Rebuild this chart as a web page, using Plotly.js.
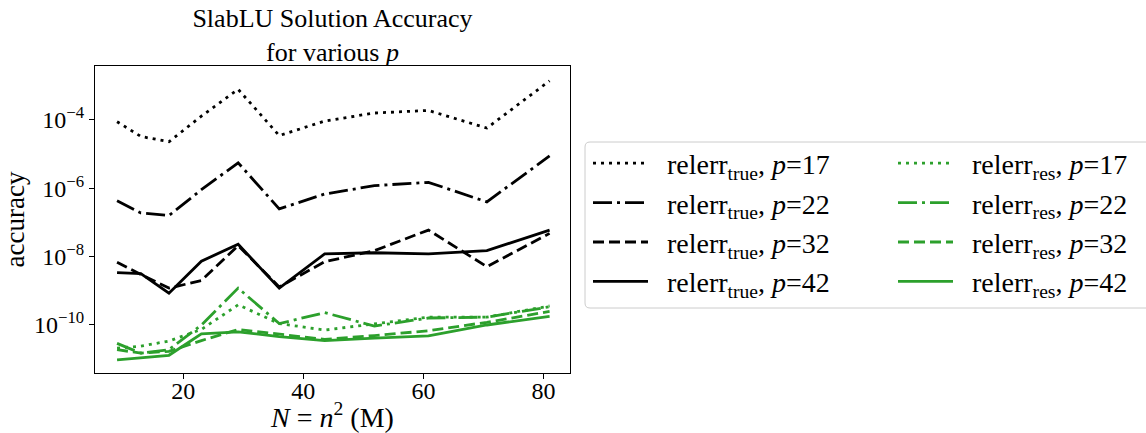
<!DOCTYPE html>
<html><head><meta charset="utf-8">
<script src="https://cdn.plot.ly/plotly-3.0.1.min.js"></script>
<style>html,body{margin:0;padding:0;background:#fff}</style>
</head><body><div id="chart" style="width:1146px;height:433px"></div>
<script>
// N = n^2 in millions (n = 3000, 3600, ..., 9000)
const N = [9, 12.96, 17.64, 23.04, 29.16, 36, 43.56, 51.84, 60.84, 70.56, 81];

// relerr_true
const trueP17 = [8.9e-5, 3.3e-5, 2.3e-5, 1.3e-4, 7.9e-4, 3.5e-5, 9.3e-5, 1.6e-4, 1.9e-4, 5.8e-5, 1.4e-3];
const trueP22 = [4.3e-7, 1.9e-7, 1.6e-7, 9.1e-7, 5.6e-6, 2.5e-7, 6.8e-7, 1.2e-6, 1.5e-6, 4.0e-7, 8.9e-6];
const trueP32 = [6.9e-9, 3.0e-9, 1.2e-9, 2.0e-9, 2.1e-8, 1.3e-9, 7.1e-9, 1.5e-8, 6.0e-8, 5.1e-9, 4.8e-8];
const trueP42 = [3.4e-9, 3.2e-9, 8.5e-10, 7.4e-9, 2.3e-8, 1.2e-9, 1.2e-8, 1.3e-8, 1.2e-8, 1.5e-8, 6.0e-8];

// relerr_res
const resP17 = [2.1e-11, 2.4e-11, 3.4e-11, 7.4e-11, 3.9e-10, 1.1e-10, 7.1e-11, 1.1e-10, 1.7e-10, 1.7e-10, 3.6e-10];
const resP22 = [2.9e-11, 1.5e-11, 1.9e-11, 1.0e-10, 1.2e-9, 1.1e-10, 2.3e-10, 9.3e-11, 1.6e-10, 1.7e-10, 3.4e-10];
const resP32 = [1.9e-11, 1.5e-11, 1.7e-11, 3.5e-11, 7.4e-11, 5.4e-11, 3.8e-11, 4.9e-11, 6.8e-11, 1.2e-10, 2.5e-10];
const resP42 = [9.5e-12, 1.1e-11, 1.3e-11, 5.5e-11, 6.3e-11, 4.6e-11, 3.5e-11, 4.1e-11, 4.8e-11, 1.0e-10, 1.8e-10];

const pValues = [17, 22, 32, 42];
const yTickVals = [1e-10, 1e-8, 1e-6, 1e-4];
const yTickText = ['10<sup>−10</sup>', '10<sup>−8</sup>', '10<sup>−6</sup>', '10<sup>−4</sup>'];
const xTickVals = [20, 40, 60, 80];

const FONT = 'Liberation Serif, Times New Roman, serif';
const LW = 2.8;
const dashes = ['3px,5px', '19px,5px,3px,5px', '11px,5px', 'solid'];
const BLACK = '#000000', GREEN = '#2ca02c';
const PAD = '\u00a0\u00a0';

const trueSets = [trueP17, trueP22, trueP32, trueP42];
const resSets = [resP17, resP22, resP32, resP42];

const traces = [];
trueSets.forEach((ys, i) => {
  traces.push({
    x: N, y: ys, type: 'scatter', mode: 'lines',
    line: {color: BLACK, width: LW, dash: dashes[i]},
    name: PAD + 'relerr<sub>true</sub>, <i>p</i>=' + pValues[i],
    legend: 'legend', legendgroup: 't' + i
  });
});
resSets.forEach((ys, i) => {
  traces.push({
    x: N, y: ys, type: 'scatter', mode: 'lines',
    line: {color: GREEN, width: LW, dash: dashes[i]},
    name: PAD + 'relerr<sub>res</sub>, <i>p</i>=' + pValues[i],
    legend: 'legend2', legendgroup: 'r' + i
  });
});

const L = 95, R = 570, T = 66, B = 373;
const pw = R - L, ph = B - T;
const px2x = p => (p - L) / pw;
const py2y = p => (B - p) / ph;

const bx0 = px2x(585), bx1 = px2x(1152), by0 = py2y(308), by1 = py2y(142);
const rx = 5 / pw, ry = 5 / ph;
const boxPath = `M ${bx0+rx},${by0} L ${bx1-rx},${by0} Q ${bx1},${by0} ${bx1},${by0+ry} L ${bx1},${by1-ry} Q ${bx1},${by1} ${bx1-rx},${by1} L ${bx0+rx},${by1} Q ${bx0},${by1} ${bx0},${by1-ry} L ${bx0},${by0+ry} Q ${bx0},${by0} ${bx0+rx},${by0} Z`;

const legendCommon = {
  xanchor: 'left', yanchor: 'top', y: py2y(138.5),
  bgcolor: 'rgba(0,0,0,0)', borderwidth: 0,
  font: {family: FONT, size: 28, color: '#000'},
  traceorder: 'grouped', tracegroupgap: 0, itemwidth: 55
};

const layout = {
  width: 1146, height: 433,
  margin: {l: L, r: 1146 - R, t: T, b: 433 - B, pad: 0},
  paper_bgcolor: '#fff', plot_bgcolor: '#fff',
  font: {family: FONT, color: '#000', size: 24},
  title: {
    text: 'SlabLU Solution Accuracy<br>for various <i>p</i>',
    font: {family: FONT, size: 26, color: '#000'},
    x: px2x(332.5), xref: 'paper', xanchor: 'center',
    y: 1 - 27 / 433, yref: 'container', yanchor: 'top'
  },
  xaxis: {
    range: [5.33, 84.4], tickvals: xTickVals, ticktext: xTickVals.map(String),
    ticks: 'outside', ticklen: 5, tickwidth: 1, tickcolor: '#000',
    ticklabelstandoff: -9,
    showline: true, mirror: true, linecolor: '#000', linewidth: 1,
    showgrid: false, zeroline: false,
    tickfont: {family: FONT, size: 24, color: '#000'},
    title: {text: '<i>N</i> = <i>n</i><sup>2</sup> (M)', font: {family: FONT, size: 28, color: '#000'}, standoff: 3}
  },
  yaxis: {
    type: 'log', range: [-11.405, -2.42], tickvals: yTickVals, ticktext: yTickText,
    ticks: 'outside', ticklen: 5, tickwidth: 1, tickcolor: '#000',
    showline: true, mirror: true, linecolor: '#000', linewidth: 1,
    showgrid: false, zeroline: false,
    tickfont: {family: FONT, size: 24, color: '#000'},
    title: {text: 'accuracy', font: {family: FONT, size: 27, color: '#000'}, standoff: 6}
  },
  legend: Object.assign({}, legendCommon, {x: px2x(588)}),
  legend2: Object.assign({}, legendCommon, {x: px2x(893)}),
  shapes: [{
    type: 'path', xref: 'paper', yref: 'paper', path: boxPath,
    line: {color: '#cccccc', width: 1}, fillcolor: 'rgba(255,255,255,0.8)', layer: 'below'
  }],
  showlegend: true
};

Plotly.newPlot('chart', traces, layout, {displayModeBar: false, staticPlot: true});
</script>
</body></html>
